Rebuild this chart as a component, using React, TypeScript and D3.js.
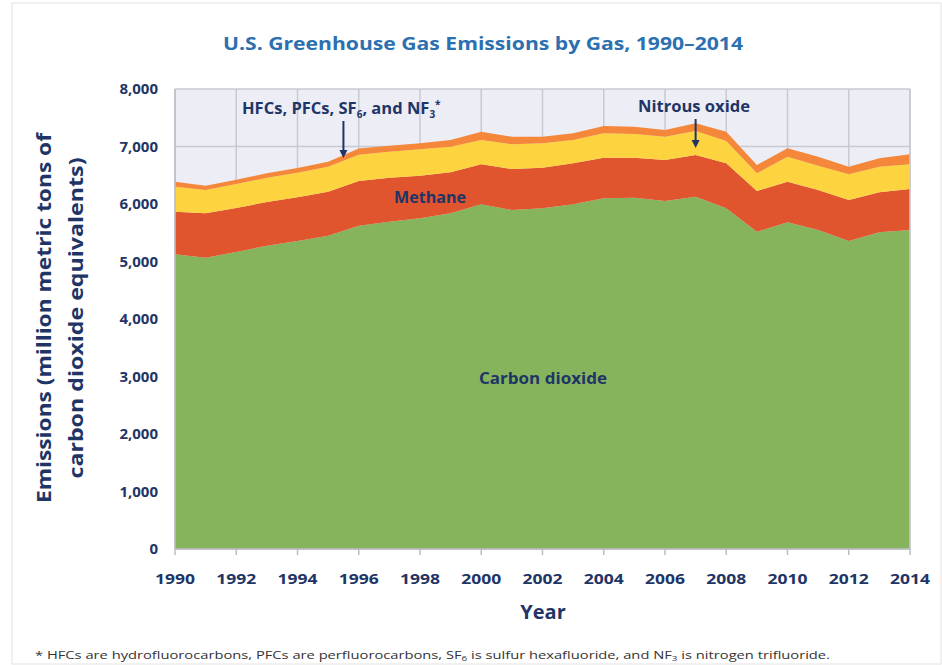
import React from "react";
import * as d3 from "d3";

const years = [1990, 1991, 1992, 1993, 1994, 1995, 1996, 1997, 1998, 1999, 2000, 2001, 2002, 2003, 2004, 2005, 2006, 2007, 2008, 2009, 2010, 2011, 2012, 2013, 2014];
const co2 = [5125, 5066, 5165, 5275, 5355, 5449, 5620, 5692, 5751, 5838, 5995, 5896, 5925, 5995, 6099, 6110, 6052, 6127, 5925, 5518, 5682, 5548, 5356, 5508, 5548];
const methane = [741, 772, 765, 760, 762, 765, 780, 765, 741, 713, 695, 713, 706, 713, 706, 695, 713, 725, 783, 708, 706, 695, 713, 695, 713];
const nitrous = [435, 405, 418, 420, 425, 435, 455, 453, 459, 446, 423, 429, 425, 405, 425, 412, 405, 418, 388, 308, 435, 423, 447, 446, 429];
const fluorinated = [87, 75, 75, 78, 82, 87, 110, 104, 105, 116, 144, 132, 114, 117, 126, 127, 117, 133, 161, 144, 146, 157, 133, 146, 174];
const yTicks = [0, 1000, 2000, 3000, 4000, 5000, 6000, 7000, 8000];
const xTicks = [1990, 1992, 1994, 1996, 1998, 2000, 2002, 2004, 2006, 2008, 2010, 2012, 2014];
const seriesKeys = ["co2", "ch4", "n2o", "f"];
const seriesColors = ["#86B45C", "#E0542E", "#FDD33F", "#F4873A"];

const NAVY = "#1F3566";
const FONT = "'Open Sans', 'DejaVu Sans', sans-serif";

export default function App() {
  const x = d3.scaleLinear().domain([1990, 2014]).range([175, 910]);
  const y = d3.scaleLinear().domain([0, 8000]).range([549, 89]);
  const rows = years.map((yr, i) => ({ year: yr, co2: co2[i], ch4: methane[i], n2o: nitrous[i], f: fluorinated[i] }));
  const stacked = d3.stack<any>().keys(seriesKeys)(rows);
  const area = d3
    .area<any>()
    .x((d) => x(d.data.year))
    .y0((d) => y(d[0]))
    .y1((d) => y(d[1]));
  const fmt = d3.format(",");

  return (
    <svg width={942} height={665} style={{ position: "absolute", left: 0, top: 0, background: "#fff" }} fontFamily={FONT}>
      <rect x={12} y={3} width={929} height={661} fill="#fff" stroke="#e2e2e2" strokeWidth={1} />
      <text x={483} y={50} textAnchor="middle" fontSize={18} fontWeight={700} fill="#2C70B0" textLength={520} lengthAdjust="spacingAndGlyphs">
        U.S. Greenhouse Gas Emissions by Gas, 1990–2014
      </text>

      {/* plot background */}
      <rect x={x(1990)} y={y(8000)} width={x(2014) - x(1990)} height={y(0) - y(8000)} fill="#EDEDF6" />
      {xTicks.map((t) => (
        <line key={"gx" + t} x1={x(t)} x2={x(t)} y1={y(0)} y2={y(8000)} stroke="#C9C9D2" strokeWidth={1.5} />
      ))}
      {yTicks.map((t) => (
        <line key={"gy" + t} x1={x(1990)} x2={x(2014)} y1={y(t)} y2={y(t)} stroke="#C9C9D2" strokeWidth={1.5} />
      ))}

      {stacked.map((s, i) => (
        <path key={seriesKeys[i]} d={area(s) || ""} fill={seriesColors[i]} />
      ))}

      {/* axes */}
      <line x1={x(1990)} x2={x(1990)} y1={y(0)} y2={y(8000)} stroke="#BDBDC6" strokeWidth={1.5} />
      <line x1={x(2014)} x2={x(2014)} y1={y(0)} y2={y(8000)} stroke="#C9C9D2" strokeWidth={1.5} />
      <line x1={x(1990)} x2={x(2014)} y1={y(0)} y2={y(0)} stroke="#BDBDC6" strokeWidth={1.5} />
      {xTicks.map((t) => (
        <line key={"tx" + t} x1={x(t)} x2={x(t)} y1={y(0)} y2={y(0) + 6} stroke="#BDBDC6" strokeWidth={1.5} />
      ))}

      {yTicks.map((t) => (
        <text key={"ly" + t} x={158} y={y(t) + 5} textAnchor="end" fontSize={15} fontWeight={700} fill={NAVY}>
          {fmt(t)}
        </text>
      ))}
      {xTicks.map((t) => (
        <text key={"lx" + t} x={x(t)} y={584} textAnchor="middle" fontSize={15} fontWeight={700} fill={NAVY} textLength={40} lengthAdjust="spacingAndGlyphs">
          {t}
        </text>
      ))}

      <text x={543} y={619} textAnchor="middle" fontSize={20} fontWeight={700} fill={NAVY}>
        Year
      </text>

      <g transform="translate(51,318) rotate(-90)">
        <text x={0} y={0} textAnchor="middle" fontSize={19} fontWeight={700} fill={NAVY} textLength={370} lengthAdjust="spacingAndGlyphs">
          Emissions (million metric tons of
        </text>
        <text x={0} y={32} textAnchor="middle" fontSize={19} fontWeight={700} fill={NAVY} textLength={321} lengthAdjust="spacingAndGlyphs">
          carbon dioxide equivalents)
        </text>
      </g>

      {/* annotations */}
      <text x={242} y={114} fontSize={16.5} fontWeight={700} fill={NAVY}>
        HFCs, PFCs, SF<tspan fontSize={10} dy={4}>6</tspan>
        <tspan dy={-4}>, and NF</tspan>
        <tspan fontSize={10} dy={4}>3</tspan>
        <tspan fontSize={10} dy={-10}>*</tspan>
      </text>
      <line x1={x(1995.5)} x2={x(1995.5)} y1={121} y2={152} stroke={NAVY} strokeWidth={2} />
      <path d={`M${x(1995.5) - 4},150 L${x(1995.5) + 4},150 L${x(1995.5)},158 Z`} fill={NAVY} />

      <text x={694} y={112} textAnchor="middle" fontSize={16} fontWeight={700} fill={NAVY} textLength={112} lengthAdjust="spacingAndGlyphs">
        Nitrous oxide
      </text>
      <line x1={x(2007)} x2={x(2007)} y1={119} y2={141} stroke={NAVY} strokeWidth={2} />
      <path d={`M${x(2007) - 4},140 L${x(2007) + 4},140 L${x(2007)},148 Z`} fill={NAVY} />

      <text x={430} y={203} textAnchor="middle" fontSize={16} fontWeight={700} fill={NAVY} textLength={72} lengthAdjust="spacingAndGlyphs">
        Methane
      </text>
      <text x={543} y={384} textAnchor="middle" fontSize={16} fontWeight={700} fill={NAVY} textLength={128} lengthAdjust="spacingAndGlyphs">
        Carbon dioxide
      </text>

      <text x={35} y={659} fontSize={10.5} fill="#333" textLength={795} lengthAdjust="spacingAndGlyphs">
        * HFCs are hydrofluorocarbons, PFCs are perfluorocarbons, SF<tspan fontSize={7} dy={2}>6</tspan>
        <tspan dy={-2}> is sulfur hexafluoride, and NF</tspan>
        <tspan fontSize={7} dy={2}>3</tspan>
        <tspan dy={-2}> is nitrogen trifluoride.</tspan>
      </text>
    </svg>
  );
}
